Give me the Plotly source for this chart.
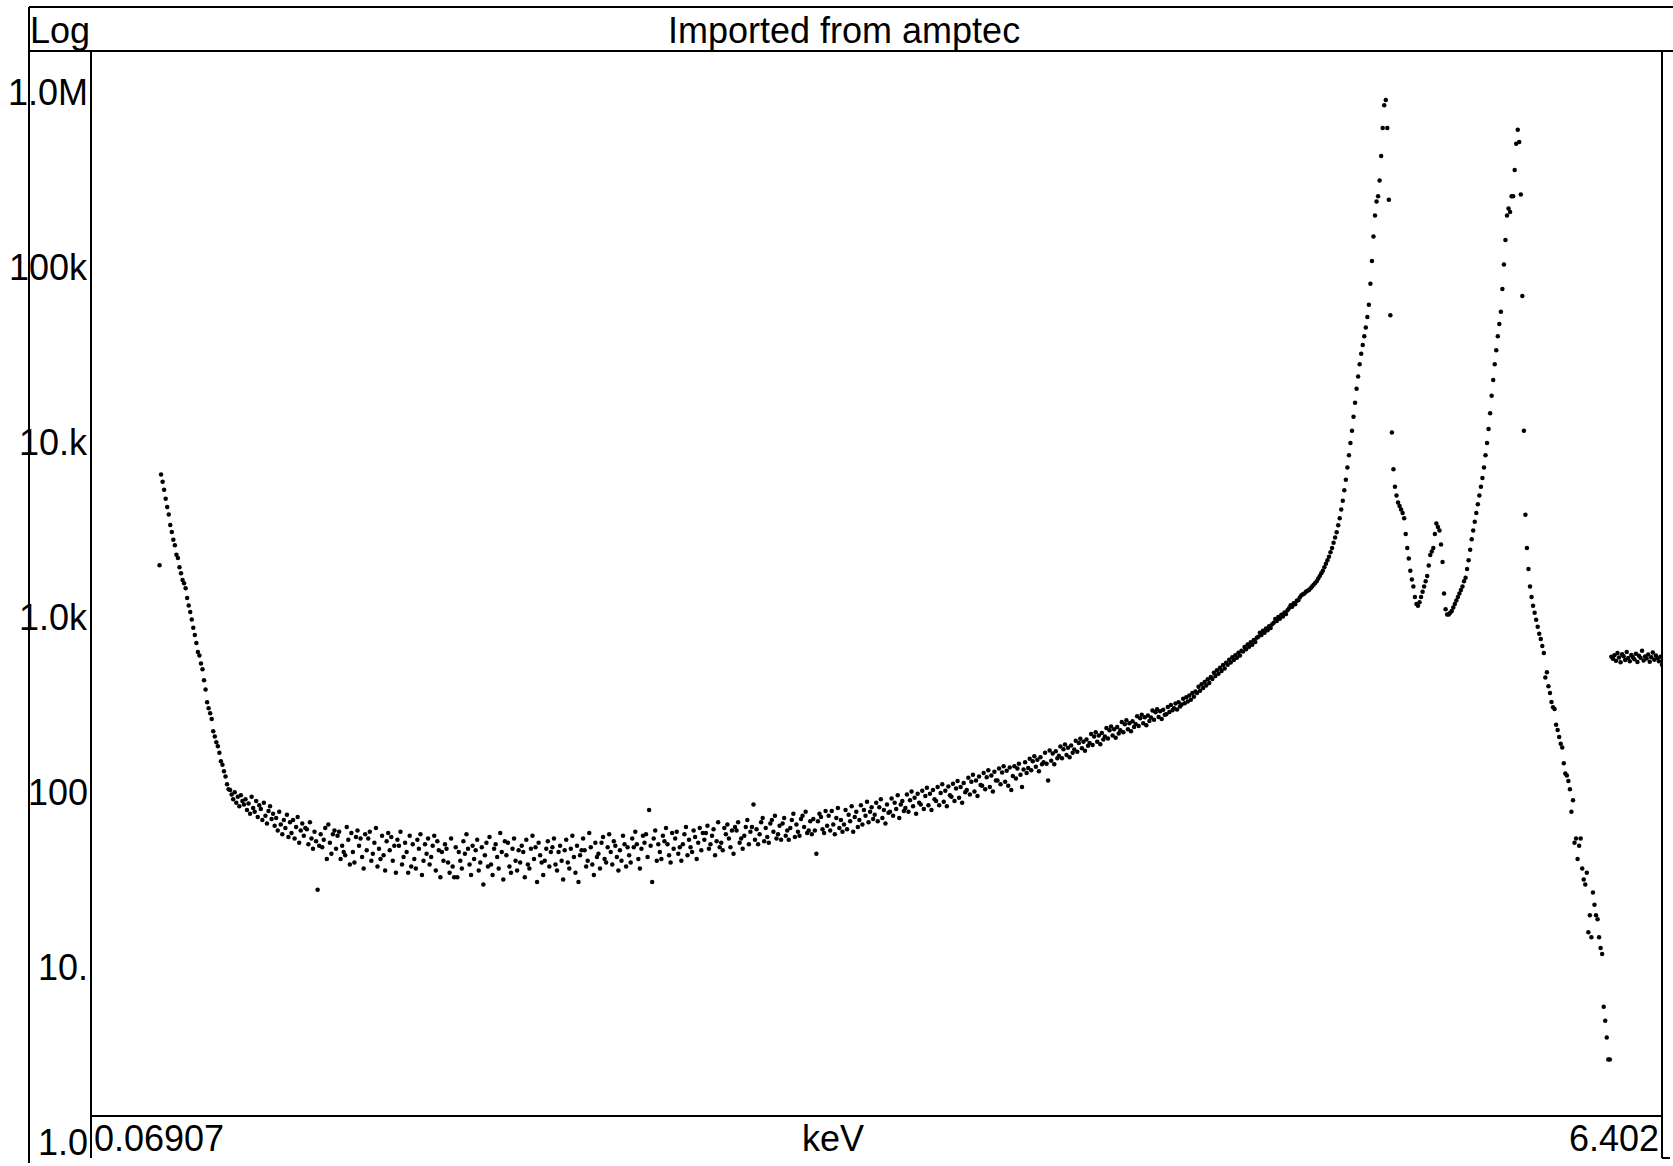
import math
import plotly.graph_objects as go

# ---------------- text / axis definitions ----------------
TITLE = "Imported from amptec"
HEADER_LEFT = "Log"
X_UNIT = "keV"
X_MIN, X_MAX = 0.06907, 6.402          # keV at left / right edge
N_CHANNELS = 1024
X_TICK_TEXT = ["0.06907", "6.402"]
Y_TICK_VALUES = [1, 10, 100, 1e3, 1e4, 1e5, 1e6]
Y_TICK_TEXT = ["1.0", "10.", "100", "1.0k", "10.k", "100k", "1.0M"]

# ---------------- spectrum counts ----------------
start_outlier = 44
counts_outlier = [2000]

start_fall = 45
counts_fall = [6600, 6000, 5400, 4800, 4300, 3900, 3400, 3100, 2800, 2600,
               2300, 2200, 1950, 1800, 1650, 1580, 1480, 1300, 1180, 1080,
               980, 880, 800, 720, 640, 610, 550, 510, 440, 390,
               330, 305, 285, 265, 225, 210, 195, 185, 170, 152,
               145, 133, 124, 112, 105]

start_continuum = 90
counts_continuum = [
    104, 98, 92, 101, 88, 95, 84, 97, 90, 86,
    92, 80, 87, 76, 95, 82, 78, 90, 73, 85,
    81, 70, 88, 74, 67, 79, 84, 71, 76, 65,
    72, 61, 78, 66, 58, 70, 63, 75, 56, 68,
    59, 70, 55, 64, 73, 52, 61, 67, 57, 63,
    62, 51, 68, 55, 48, 60, 53, 28, 50, 58,
    49, 54, 63, 42, 66, 52, 45, 58, 61, 48,
    57, 60, 42, 50, 46, 44, 64, 54, 39, 59,
    46, 40, 56, 61, 50, 55, 43, 37, 58, 47,
    55, 60, 41, 45, 52, 63, 38, 48, 42, 57,
    44, 36, 53, 59, 47, 56, 41, 50, 35, 54,
    50, 60, 39, 43, 52, 46, 35, 57, 38, 51,
    42, 37, 54, 48, 58, 34, 41, 51, 45, 55,
    39, 43, 50, 57, 36, 53, 47, 33, 46, 41,
    51, 48, 40, 35, 55, 38, 33, 49, 33, 46,
    41, 37, 53, 45, 58, 48, 39, 34, 50, 42,
    47, 54, 36, 40, 49, 30, 44, 52, 38, 56,
    39, 34, 48, 51, 43, 37, 59, 46, 32, 53,
    44, 52, 38, 35, 48, 55, 41, 36, 47, 40,
    50, 46, 33, 54, 39, 37, 48, 57, 42, 49,
    31, 52, 44, 40, 34, 41, 48, 53, 38, 46,
    49, 55, 39, 36, 46, 50, 41, 32, 47, 54,
    40, 37, 48, 57, 43, 35, 50, 31, 44, 47,
    55, 47, 38, 41, 59, 49, 39, 34, 52, 43,
    45, 37, 52, 56, 42, 40, 49, 58, 46, 39,
    53, 50, 43, 36, 47, 41, 57, 51, 38, 49,
    44, 40, 55, 49, 60, 51, 42, 37, 48, 57,
    52, 58, 43, 80, 50, 31, 55, 61, 41, 51,
    46, 42, 57, 53, 63, 51, 44, 40, 59, 48,
    55, 60, 45, 49, 41, 51, 58, 64, 44, 54,
    49, 46, 61, 56, 42, 52, 63, 47, 59, 54,
    59, 65, 48, 51, 57, 62, 44, 53, 68, 49,
    52, 47, 63, 58, 66, 55, 49, 61, 45, 64,
    61, 68, 52, 55, 48, 57, 64, 70, 51, 60,
    64, 86, 54, 62, 51, 58, 68, 72, 53, 63,
    56, 52, 67, 70, 60, 74, 55, 58, 65, 54,
    67, 72, 57, 61, 54, 63, 70, 76, 56, 66,
    60, 57, 71, 74, 64, 78, 59, 61, 69, 58,
    71, 61, 45, 69, 76, 73, 62, 59, 79, 65,
    74, 61, 79, 66, 58, 72, 82, 63, 70, 60,
    66, 80, 62, 75, 69, 84, 60, 73, 78, 64,
    70, 85, 66, 80, 74, 89, 68, 78, 83, 71,
    75, 88, 69, 83, 92, 72, 80, 67, 86, 77,
    78, 93, 74, 88, 81, 97, 72, 86, 90, 79,
    82, 98, 78, 91, 102, 84, 94, 76, 99, 88,
    86, 103, 81, 96, 107, 85, 99, 80, 104, 92,
    90, 108, 85, 100, 112, 89, 103, 84, 109, 97,
    95, 113, 90, 106, 117, 94, 108, 88, 114, 101,
    104, 122, 98, 116, 127, 102, 118, 96, 124, 111,
    110, 130, 105, 123, 135, 108, 126, 102, 132, 118,
    118, 138, 112, 131, 142, 116, 134, 110, 140, 104,
    125, 142, 121, 138, 147, 127, 108, 136, 150, 130,
    139, 157, 135, 152, 162, 141, 155, 133, 160, 146,
    150, 170, 147, 118, 175, 153, 168, 146, 173, 158,
    163, 184, 158, 178, 189, 165, 181, 160, 187, 170,
    177, 199, 172, 193, 204, 180, 196, 174, 202, 186,
    193, 217, 188, 210, 222, 196, 213, 190, 220, 202,
    210, 235, 205, 228, 240, 213, 231, 207, 238, 219,
    228, 254, 222, 247, 260, 231, 250, 225, 257, 238,
    248, 274, 241, 267, 280, 250, 271, 244, 277, 258,
    270, 296, 262, 289, 301, 272, 293, 265, 299, 280,
    282, 310, 290, 318, 297, 305, 324, 300, 330, 312,
    320, 345, 326, 352, 333, 360, 341, 372, 355, 380,
    372, 405, 384, 418, 398, 430, 411, 446, 425, 460,
    448, 487, 466, 503, 480, 520, 498, 538, 515, 555,
    540, 578, 556, 597, 575, 612, 592, 632, 610, 650,
    644, 683, 662, 706, 684, 727, 703, 748, 728, 772,
    780, 822, 800, 845, 824, 870, 850, 896, 875, 922,
    940, 985, 962, 1012, 990, 1042, 1020, 1074, 1052, 1108,
    1135, 1182, 1160, 1215, 1198, 1256, 1262, 1310]

start_peaks = 788
counts_peaks = [
    1349, 1365, 1380, 1413, 1429, 1445, 1479, 1514, 1549, 1585,
    1622, 1679, 1738, 1799, 1862, 1950, 2042, 2138, 2239, 2371,
    2512, 2692, 2884, 3090, 3388, 3715, 4169, 4677, 5370, 6166,
    7244, 8511, 10000, 11749, 14125, 16982, 20417, 23988, 28184, 32359,
    36308, 40738, 45709, 52481, 61660, 81283, 109648, 151356, 199526, 239883,
    257040, 316228, 436516, 630957, 851138, 912011, 630957, 245471, 53703, 11482,
    7079,
    5623, 5012, 4571, 4365, 4169, 3981, 3715, 3020, 2512, 2188,
    1862, 1660, 1514, 1318, 1202, 1175, 1230, 1318, 1413, 1514,
    1622, 1738, 1995, 2291, 2399, 2512, 3020, 3467, 3311, 3162,
    2630, 2089, 1380, 1122, 1047, 1047, 1072, 1096, 1148, 1202,
    1259, 1318, 1380, 1445, 1514, 1622, 1698,
    1905, 2138, 2455, 2818, 3162, 3548, 3981, 4467, 5012, 5623,
    6310, 7244, 8511, 10000, 12023, 14791, 18621, 22909, 28184, 33884,
    40738, 47863, 56234, 75858, 104713, 144544, 199526, 218776, 208930, 257040,
    257040, 363078, 512861, 616595, 524807, 263027,
    69183, 11749, 3890, 2512, 1905, 1514, 1318, 1175, 1072, 977,
    891, 813, 759, 692, 631, 457, 490, 407, 372, 331,
    309, 302, 245, 229, 209, 191, 182, 148, 129, 126,
    117, 105, 78, 91, 52, 55, 42, 50, 55, 37,
    32, 30, 35, 16, 20, 15, 27, 23, 20, 19,
    15, 13, 12, 6, 5, 4, 3, 3]

start_flat = 990
counts_flat = [600, 585, 612, 570, 630, 595, 558, 620, 605, 575,
               640, 590, 565, 615, 598, 580, 625, 560, 608, 592,
               650, 572, 603, 586, 618, 562, 597, 635, 578, 610,
               588, 566, 600, 540]

segments = [(start_outlier, counts_outlier), (start_fall, counts_fall),
            (start_continuum, counts_continuum), (start_peaks, counts_peaks),
            (start_flat, counts_flat)]

gain = (X_MAX - X_MIN) / (N_CHANNELS - 1)
energies, counts = [], []
for start, vals in segments:
    for i, v in enumerate(vals):
        energies.append(X_MIN + (start + i) * gain)
        counts.append(v)

# ---------------- layout geometry ----------------
W, H = 1673, 1166
ML, MR, MT, MB = 92, 11, 51, 50
PW, PH = W - ML - MR, H - MT - MB
Y_RANGE = [0.154, 6.24]


def px(x):
    return (x - ML) / PW


def py(y):
    return (H - MB - y) / PH


def ylog_paper(v):
    return (math.log10(v) - Y_RANGE[0]) / (Y_RANGE[1] - Y_RANGE[0])


fig = go.Figure()
fig.add_trace(go.Scatter(
    x=energies, y=counts, mode="markers",
    marker=dict(size=4.5, color="black", symbol="circle", line=dict(width=0)),
    hoverinfo="x+y", showlegend=False))

FONT = dict(family="Liberation Sans, Arial, Helvetica, sans-serif", size=36, color="black")

lines = [
    (29, 7, 29, 1163),      # outer left frame
    (29, 7, 1673, 7),       # top frame
    (29, 51, 1673, 51),     # header separator / plot top
    (91, 51, 91, 1158),     # y-axis line
    (91, 1116, 1662, 1116),  # x-axis line
    (1662, 51, 1662, 1158),  # right border
    (1662, 1158, 1670, 1158),
]
shapes = [dict(type="line", xref="paper", yref="paper",
               x0=px(a), y0=py(b), x1=px(c), y1=py(d),
               line=dict(color="black", width=2)) for a, b, c, d in lines]

annotations = [
    dict(text=HEADER_LEFT, x=px(29), y=py(31), xanchor="left", yanchor="middle"),
    dict(text=TITLE, x=px(844), y=py(31), xanchor="center", yanchor="middle"),
    dict(text=X_TICK_TEXT[0], x=px(93), y=py(1138), xanchor="left", yanchor="middle"),
    dict(text=X_TICK_TEXT[1], x=px(1660), y=py(1138), xanchor="right", yanchor="middle"),
    dict(text=X_UNIT, x=px(833), y=py(1138), xanchor="center", yanchor="middle"),
]
for v, t in zip(Y_TICK_VALUES, Y_TICK_TEXT):
    annotations.append(dict(text=t, x=px(89), y=ylog_paper(v),
                            xanchor="right", yanchor="middle"))
for a in annotations:
    a.update(xref="paper", yref="paper", showarrow=False, font=FONT, borderpad=0)

fig.update_layout(
    width=W, height=H,
    margin=dict(l=ML, r=MR, t=MT, b=MB, pad=0),
    paper_bgcolor="white", plot_bgcolor="white",
    xaxis=dict(range=[X_MIN, X_MAX], showgrid=False, zeroline=False,
               showticklabels=False, ticks="", showline=False),
    yaxis=dict(type="log", range=Y_RANGE, showgrid=False, zeroline=False,
               showticklabels=False, ticks="", showline=False),
    shapes=shapes, annotations=annotations,
)

fig.write_html("out.html", config={"displayModeBar": False},
               post_script="document.body.style.margin='0px';")
